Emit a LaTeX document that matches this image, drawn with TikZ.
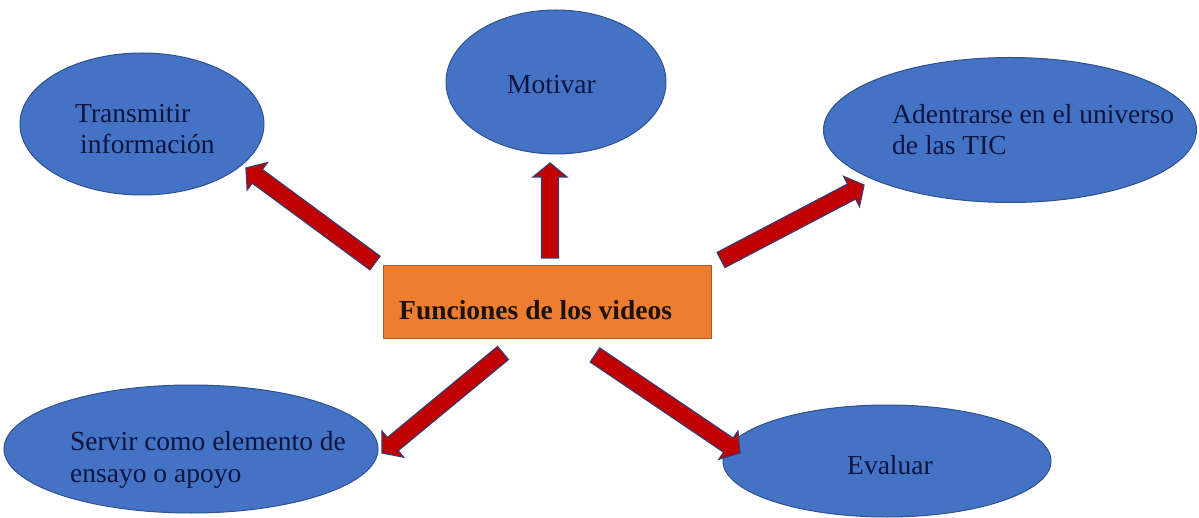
\documentclass[tikz,border=0pt]{standalone}
\usepackage{fontspec}
\setmainfont{Liberation Serif}
\usetikzlibrary{calc,shapes.geometric}
\definecolor{ellfill}{HTML}{4472C4}
\definecolor{elldraw}{HTML}{2F528F}
\definecolor{boxfill}{HTML}{ED7D31}
\definecolor{boxdraw}{HTML}{AE5A21}
\definecolor{arrfill}{HTML}{C00000}
\definecolor{arrdraw}{HTML}{3C3A6E}
\definecolor{txtblue}{HTML}{0E1440}
\definecolor{txtdark}{HTML}{1E1208}
\newcommand{\fatarrow}[2]{%
  \path ($(#2)!14pt!(#1)$) coordinate (fa-h);
  \draw[fatarr] ($(#1)!8.5pt!90:(#2)$) -- ($(fa-h)!8.5pt!90:(#2)$) -- ($(fa-h)!17pt!90:(#2)$) -- (#2) -- ($(fa-h)!17pt!-90:(#2)$) -- ($(fa-h)!8.5pt!-90:(#2)$) -- ($(#1)!8.5pt!-90:(#2)$) -- cycle;}
\tikzset{
  ell/.style={ellipse, draw=elldraw, fill=ellfill, line width=1pt, inner sep=0pt},
  centerbox/.style={rectangle, draw=boxdraw, fill=boxfill, line width=1pt, inner sep=0pt, minimum width=328pt, minimum height=73pt},
  fatarr/.style={draw=arrdraw, fill=arrfill, line width=1.2pt, line join=miter},
  txt/.style={font=\fontsize{27.5}{31.5}\selectfont, text=txtblue, inner sep=0pt, anchor=base west, align=left},
  boldtxt/.style={font=\fontsize{27.5}{31.5}\selectfont\bfseries, text=txtdark, inner sep=0pt, anchor=base west}
}
\begin{document}
\begin{tikzpicture}[x=1pt,y=-1pt]
\useasboundingbox (0,0) rectangle (1199,518);
% ellipses
\node[ell, minimum width=244pt, minimum height=142pt] (trans) at (142,124) {};
\node[ell, minimum width=220pt, minimum height=144pt] (motiv) at (556,82) {};
\node[ell, minimum width=373pt, minimum height=145pt] (adent) at (1010,130) {};
\node[ell, minimum width=374pt, minimum height=128pt] (servir) at (191,449) {};
\node[ell, minimum width=328pt, minimum height=112pt] (eval) at (887,461) {};
% center box
\node[centerbox] (box) at (547,302.5) {};
% arrow end points
\coordinate (a1s) at (375,263); \coordinate (a1e) at (246,168);
\coordinate (a2s) at (550,258); \coordinate (a2e) at (550,163);
\coordinate (a3s) at (721,260); \coordinate (a3e) at (864,185);
\coordinate (a4s) at (503,353); \coordinate (a4e) at (382,453);
\coordinate (a5s) at (595,355); \coordinate (a5e) at (740,453);
\fatarrow{a1s}{a1e}
\fatarrow{a2s}{a2e}
\fatarrow{a3s}{a3e}
\fatarrow{a4s}{a4e}
\fatarrow{a5s}{a5e}
% texts (multi-line nodes: base = last line)
\node[txt] (transtxt) at (75,154) {Transmitir\\\hspace{5pt}información};
\node[txt] (motivtxt) at (507,94) {Motivar};
\node[txt] (adenttxt) at (892,155) {Adentrarse en el universo\\de las TIC};
\node[txt] (servirtxt) at (70,482) {Servir como elemento de\\ensayo o apoyo};
\node[txt] (evaltxt) at (847,474) {Evaluar};
\node[boldtxt] (boxtxt) at (399,320) {Funciones de los videos};
\end{tikzpicture}
\end{document}
